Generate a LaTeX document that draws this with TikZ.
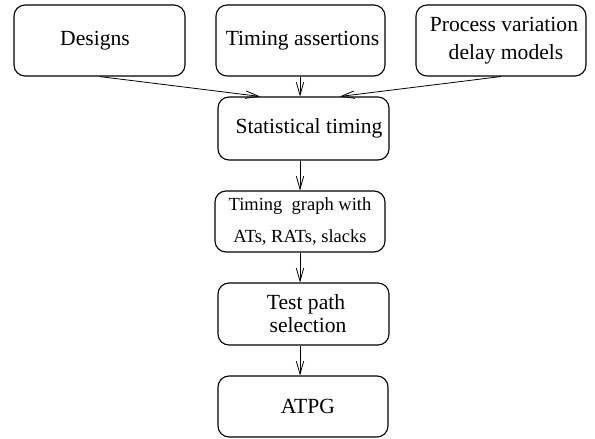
\documentclass[tikz,border=0pt]{standalone}
\usepackage{fontspec}
\setmainfont{Liberation Serif}
\usetikzlibrary{arrows.meta}
\begin{document}
\begin{tikzpicture}[x=1pt,y=-1pt,
  box/.style={draw,line width=1.1pt,rounded corners=11pt,inner sep=0pt,align=center,font=\fontsize{21.6}{26}\selectfont},
  arr/.style={line width=0.8pt,-{Straight Barb[length=13pt,width=7.5pt,line width=0.8pt]}}]
\useasboundingbox (0,0) rectangle (595,439);
\node[box,minimum width=171pt,minimum height=71pt] (des) at (99.5,40.5) {\hspace*{-9pt}\raisebox{-3pt}{Designs}};
\node[box,minimum width=169pt,minimum height=71pt] (ta) at (300.5,40.5) {\raisebox{-3pt}{\hspace*{4pt}Timing assertions}};
\node[box,minimum width=170pt,minimum height=71pt,font=\fontsize{21.6}{28.5}\selectfont] (pv) at (501,40.5) {\hspace*{6pt}Process variation\\\hspace*{10pt}delay models};
\node[box,minimum width=171pt,minimum height=63pt] (st) at (303.5,128.5) {\hspace*{11pt}Statistical timing};
\node[box,minimum width=170pt,minimum height=61pt,font=\fontsize{18.5}{32}\selectfont] (tg) at (300,221.5) {Timing\ \ graph with\\ATs, RATs, slacks};
\node[box,minimum width=171pt,minimum height=62pt,font=\fontsize{21.6}{23}\selectfont] (tp) at (303.5,314) {\hspace*{5pt}Test path\\\hspace*{9pt}selection};
\node[box,minimum width=170pt,minimum height=61pt] (at) at (303,406.5) {\hspace*{10pt}\raisebox{-2pt}{ATPG}};
\draw[arr] (des.south) -- ([xshift=-43.5pt]st.north);
\draw[arr] (pv.south) -- ([xshift=36.5pt]st.north);
\draw[arr] ([xshift=-0.5pt]ta.south) -- ([xshift=-3.5pt]st.north);
\draw[arr] ([xshift=-3.5pt]st.south) -- (tg.north);
\draw[arr] (tg.south) -- ([xshift=-3.5pt]tp.north);
\draw[arr] ([xshift=-3.5pt]tp.south) -- ([xshift=-3pt]at.north);
\end{tikzpicture}
\end{document}
